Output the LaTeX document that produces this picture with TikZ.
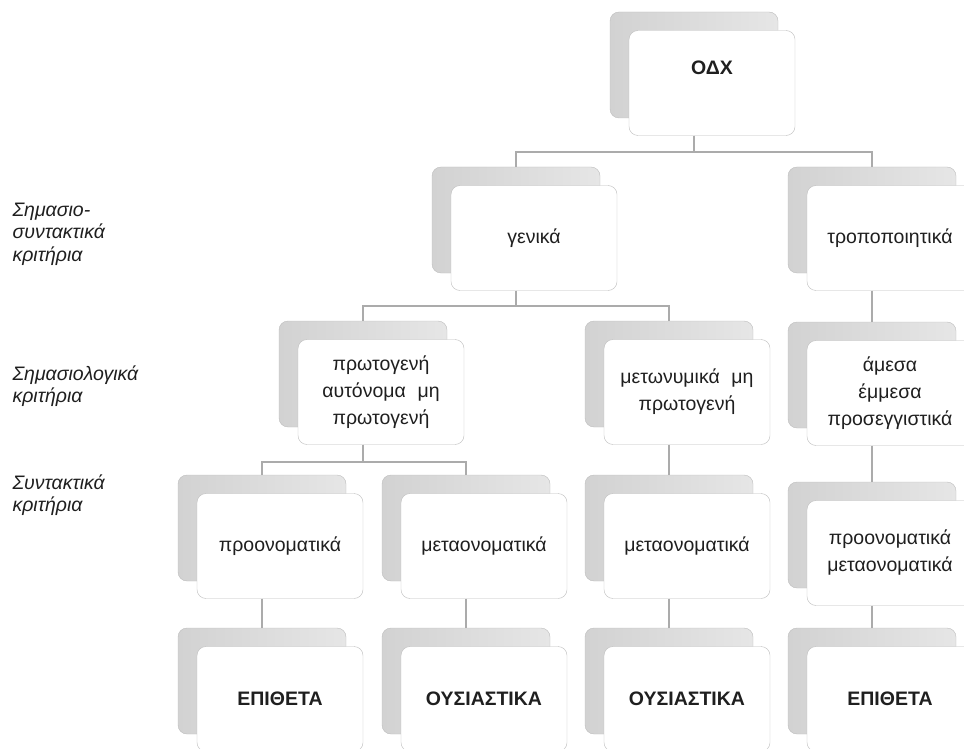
\documentclass[tikz,border=0pt]{standalone}
\usepackage{fontspec}
\setmainfont{Liberation Sans}
\usetikzlibrary{positioning}
\definecolor{CardLine}{HTML}{BDBDBD}
\definecolor{CardBack}{HTML}{DCDCDC}
\definecolor{CardEdge}{HTML}{D2D2D2}
\definecolor{CardLight}{HTML}{E6E6E6}
\definecolor{LinkGray}{HTML}{ABABAB}
\definecolor{InkGray}{HTML}{1F1F1F}

\begin{document}
\begin{tikzpicture}[x=1pt,y=-1pt,
  back/.style={rectangle,rounded corners=9pt,draw=CardLine,left color=CardEdge,right color=CardLight,minimum width=168pt,minimum height=106pt,inner sep=0pt},
  card/.style={rectangle,rounded corners=9pt,draw=CardLine,fill=white,minimum width=166pt,minimum height=105pt,inner sep=3pt,text width=160pt,align=center,text=InkGray,font=\fontsize{19.5}{27}\selectfont,xshift=18pt,yshift=-18pt},
  heavy/.style={font=\bfseries\fontsize{19.5}{23}\selectfont},
  raised/.style={text depth=30pt},
  crit/.style={anchor=west,align=left,text=InkGray,font=\itshape\fontsize{19.5}{22.5}\selectfont},
  link/.style={draw=LinkGray,line width=2.2pt}
]
\useasboundingbox (0,0) rectangle (964,749);
\clip (0,0) rectangle (964,749);

% criteria column
\node[crit] (semsyn) at (9,234) {Σημασιο-\\συντακτικά\\κριτήρια};
\node[crit] (semas) at (9,386) {Σημασιολογικά\\κριτήρια};
\node[crit] (synt) at (9,495) {Συντακτικά\\κριτήρια};

% root
\node[back] (odxb) at (694,65) {};
\node[card,heavy,raised] (odx) at (odxb) {ΟΔΧ};

% first level
\node[back] (genikab) at (516,220) {};
\node[card] (genika) at (genikab) {γενικά};
\node[back] (tropob) at (872,220) {};
\node[card] (tropo) at (tropob) {τροποποιητικά};

% second level
\node[back] (protogb) at (363,374) {};
\node[card] (protog) at (protogb) {πρωτογενή\\αυτόνομα\hspace{0.6em}μη\\πρωτογενή};
\node[back] (metonymb) at (669,374) {};
\node[card] (metonym) at (metonymb) {μετωνυμικά\hspace{0.6em}μη\\πρωτογενή};
\node[back] (amesab) at (872,375) {};
\node[card] (amesa) at (amesab) {άμεσα\\έμμεσα\\προσεγγιστικά};

% third level
\node[back] (proonb) at (262,528) {};
\node[card] (proon) at (proonb) {προονοματικά};
\node[back] (metaonb) at (466,528) {};
\node[card] (metaon) at (metaonb) {μεταονοματικά};
\node[back] (metaonBb) at (669,528) {};
\node[card] (metaonB) at (metaonBb) {μεταονοματικά};
\node[back] (prometb) at (872,535) {};
\node[card] (promet) at (prometb) {προονοματικά\\μεταονοματικά};

% parts of speech
\node[back] (epithb) at (262,681) {};
\node[card,heavy] (epith) at (epithb) {ΕΠΙΘΕΤΑ};
\node[back] (ousiab) at (466,681) {};
\node[card,heavy] (ousia) at (ousiab) {ΟΥΣΙΑΣΤΙΚΑ};
\node[back] (ousiaBb) at (669,681) {};
\node[card,heavy] (ousiaB) at (ousiaBb) {ΟΥΣΙΑΣΤΙΚΑ};
\node[back] (epithBb) at (872,681) {};
\node[card,heavy] (epithB) at (epithBb) {ΕΠΙΘΕΤΑ};

% connectors
\draw[link] (odxb |- odx.south) -- ++(0,16) -| (genikab.north);
\draw[link] (odxb |- odx.south) -- ++(0,16) -| (tropob.north);
\draw[link] (genikab |- genika.south) -- ++(0,15) -| (protogb.north);
\draw[link] (genikab |- genika.south) -- ++(0,15) -| (metonymb.north);
\draw[link] (tropob |- tropo.south) -- (amesab.north);
\draw[link] (protogb |- protog.south) -- ++(0,17) -| (proonb.north);
\draw[link] (protogb |- protog.south) -- ++(0,17) -| (metaonb.north);
\draw[link] (metonymb |- metonym.south) -- (metaonBb.north);
\draw[link] (amesab |- amesa.south) -- (prometb.north);
\draw[link] (proonb |- proon.south) -- (epithb.north);
\draw[link] (metaonb |- metaon.south) -- (ousiab.north);
\draw[link] (metaonBb |- metaonB.south) -- (ousiaBb.north);
\draw[link] (prometb |- promet.south) -- (epithBb.north);
\end{tikzpicture}
\end{document}
